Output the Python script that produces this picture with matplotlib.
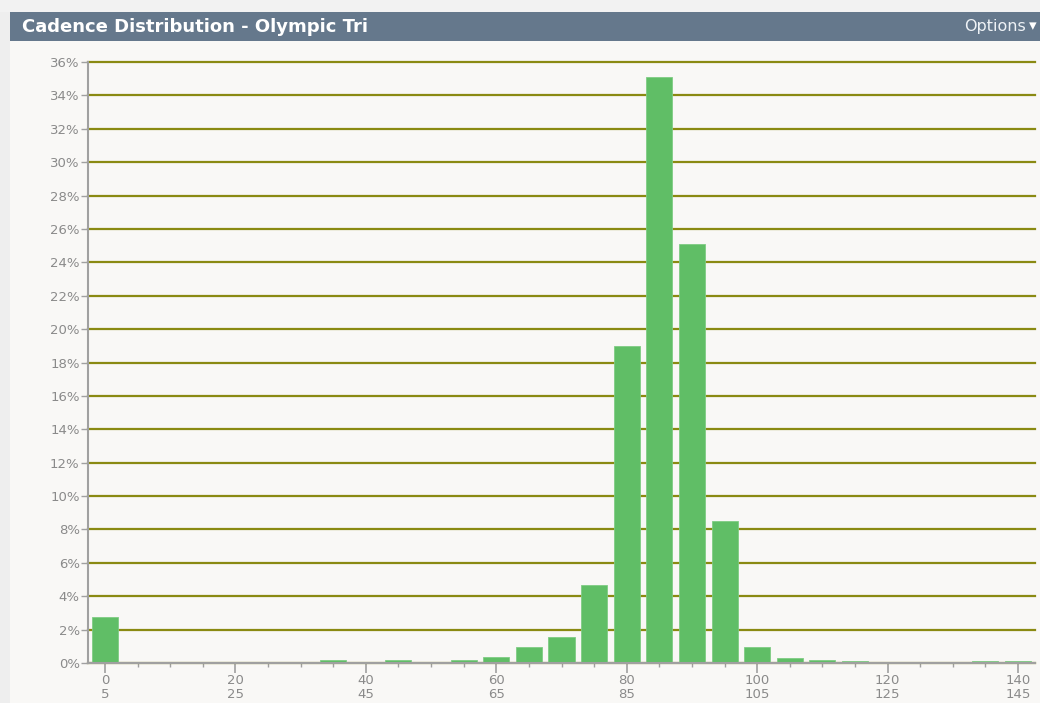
import matplotlib.pyplot as plt
from matplotlib.patches import Rectangle
from matplotlib.ticker import MultipleLocator, FuncFormatter

# cadence bins (rpm, lower edge) and share of time in %
bins = list(range(0, 145, 5))
shares = [2.75, 0, 0, 0, 0, 0, 0, 0.15, 0, 0.15,
          0, 0.15, 0.35, 0.95, 1.55, 4.7, 19.0, 35.1, 25.1, 8.5,
          0.95, 0.3, 0.2, 0.1, 0, 0, 0, 0.1, 0.1]
title = "Cadence Distribution - Olympic Tri"
major_ticks = [0, 20, 40, 60, 80, 100, 120, 140]

fig = plt.figure(figsize=(10.4, 7.03), dpi=100)
fig.patch.set_facecolor('#f9f8f6')

# outer light frame + title bar
fig.patches.append(Rectangle((0, 0), 10 / 1040, 1, transform=fig.transFigure,
                             facecolor='#eeeeee', edgecolor='none'))
fig.patches.append(Rectangle((0, 1 - 12 / 703), 1, 12 / 703, transform=fig.transFigure,
                             facecolor='#f2f2f2', edgecolor='none'))
fig.patches.append(Rectangle((10 / 1040, 1 - 41 / 703), 1030 / 1040, 29 / 703,
                             transform=fig.transFigure,
                             facecolor='#65788c', edgecolor='none'))
fig.text(22 / 1040, 1 - 27 / 703, title, color='white', fontsize=13,
         fontweight='bold', va='center', ha='left')
fig.text(1026 / 1040, 1 - 27 / 703, "Options", color='#eef2f6', fontsize=11.5,
         va='center', ha='right')
fig.text(1029 / 1040, 1 - 26 / 703, "\u25BE", color='white', fontsize=11,
         va='center', ha='left')

ax = fig.add_axes([88 / 1040, 1 - 663 / 703, (1035 - 88) / 1040, (663 - 62) / 703])
ax.set_facecolor('#f9f8f6')

ax.bar(bins, shares, width=4.0, color='#60be66', edgecolor='#7fcc84',
       linewidth=0.6, zorder=3)

ax.set_xlim(-2.6, 142.6)
ax.set_ylim(0, 36)
ax.yaxis.set_major_locator(MultipleLocator(2))
ax.yaxis.set_major_formatter(FuncFormatter(lambda v, p: f"{int(v)}%"))
ax.grid(axis='y', color='#8a8a12', linewidth=1.6, zorder=1)
for gl in ax.get_ygridlines():
    gl.set_clip_on(False)

ax.set_xticks(major_ticks)
ax.set_xticklabels([f"{t}\n{t + 5}" for t in major_ticks], linespacing=1.05)
ax.xaxis.set_minor_locator(MultipleLocator(5))

for s in ['top', 'right']:
    ax.spines[s].set_visible(False)
for s in ['left', 'bottom']:
    ax.spines[s].set_color('#a0a0a0')
    ax.spines[s].set_linewidth(1.5)
    ax.spines[s].set_zorder(4)

ax.tick_params(axis='y', colors='#a0a0a0', labelcolor='#8a8a8a', labelsize=9.5,
               length=5, width=1, pad=1)
ax.tick_params(axis='x', which='major', colors='#a0a0a0', labelcolor='#8a8a8a',
               labelsize=9.5, length=7, width=1.2, pad=1)
ax.tick_params(axis='x', which='minor', colors='#a0a0a0', length=3, width=1)

fig.savefig('out.png', dpi=100, facecolor=fig.get_facecolor())
